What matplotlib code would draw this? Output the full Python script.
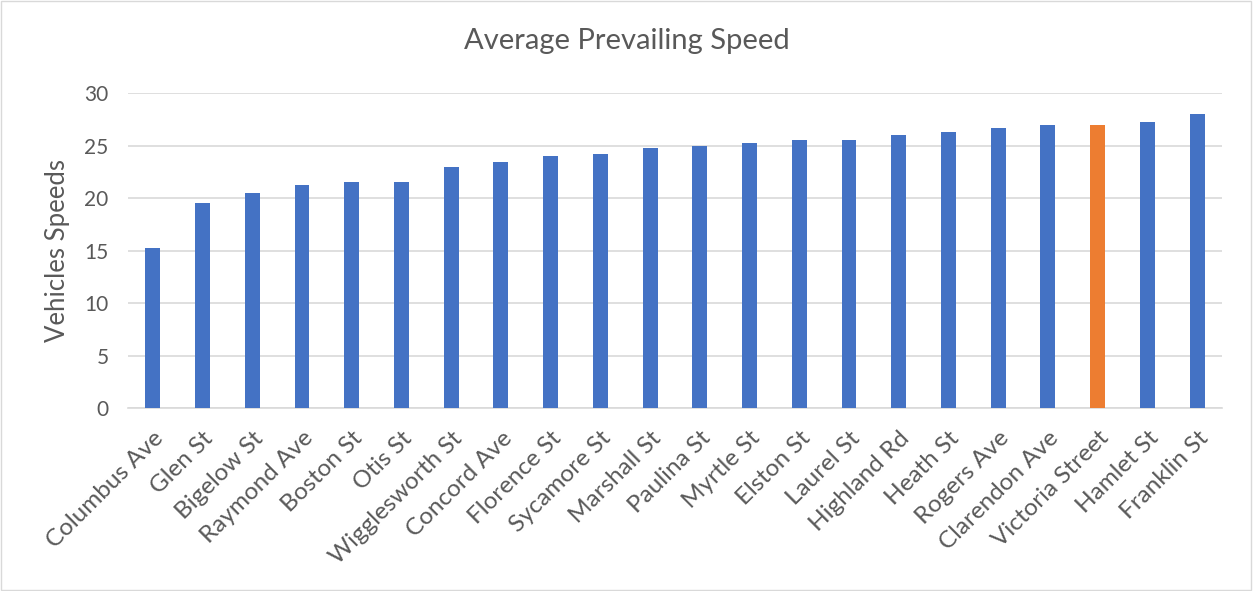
import matplotlib
matplotlib.use('Agg')
import matplotlib.pyplot as plt

streets = ['Columbus Ave', 'Glen St', 'Bigelow St', 'Raymond Ave', 'Boston St', 'Otis St',
           'Wigglesworth St', 'Concord Ave', 'Florence St', 'Sycamore St', 'Marshall St',
           'Paulina St', 'Myrtle St', 'Elston St', 'Laurel St', 'Highland Rd', 'Heath St',
           'Rogers Ave', 'Clarendon Ave', 'Victoria Street', 'Hamlet St', 'Franklin St']
speeds = [15.2, 19.5, 20.5, 21.2, 21.5, 21.5, 23.0, 23.4, 24.0, 24.2, 24.8,
          25.0, 25.2, 25.55, 25.5, 26.0, 26.3, 26.65, 27.0, 27.0, 27.25, 28.0]
highlight = 'Victoria Street'

blue = '#4472c4'
orange = '#ed7d31'
grey = '#595959'

plt.rcParams['font.family'] = ['Lato', 'DejaVu Sans']

fig = plt.figure(figsize=(12.54, 5.91), dpi=100)
ax = fig.add_axes([0.102, 0.3096, 0.8725, 0.533])

colors = [orange if s == highlight else blue for s in streets]
x = list(range(len(streets)))
ax.bar(x, speeds, width=0.3, color=colors, zorder=3)

ax.set_xlim(-0.5, len(streets) - 0.5)
ax.set_ylim(0, 30)
ax.set_yticks([0, 5, 10, 15, 20, 25, 30])
ax.grid(axis='y', color='#d9d9d9', linewidth=1.2, zorder=0)
for side in ['top', 'right', 'left']:
    ax.spines[side].set_visible(False)
ax.spines['bottom'].set_color('#d9d9d9')
ax.spines['bottom'].set_linewidth(1.2)
ax.tick_params(axis='both', length=0, colors=grey)
ax.tick_params(axis='y', pad=14, labelsize=15)
ax.tick_params(axis='x', pad=14, labelsize=17.5)

ax.set_xticks(x)
ax.set_xticklabels(streets, rotation=45, ha='right', rotation_mode='anchor')
ax.set_ylabel('Vehicles Speeds', color=grey, fontsize=18.5, labelpad=10)

fig.text(0.5, 0.93, 'Average Prevailing Speed', ha='center', va='center',
         color=grey, fontsize=21)

fig.patches.append(plt.Rectangle((0.001, 0.001), 0.997, 0.997, transform=fig.transFigure,
                                 fill=False, edgecolor='#d9d9d9', linewidth=1))

fig.savefig('out.png', dpi=100, facecolor='white')
